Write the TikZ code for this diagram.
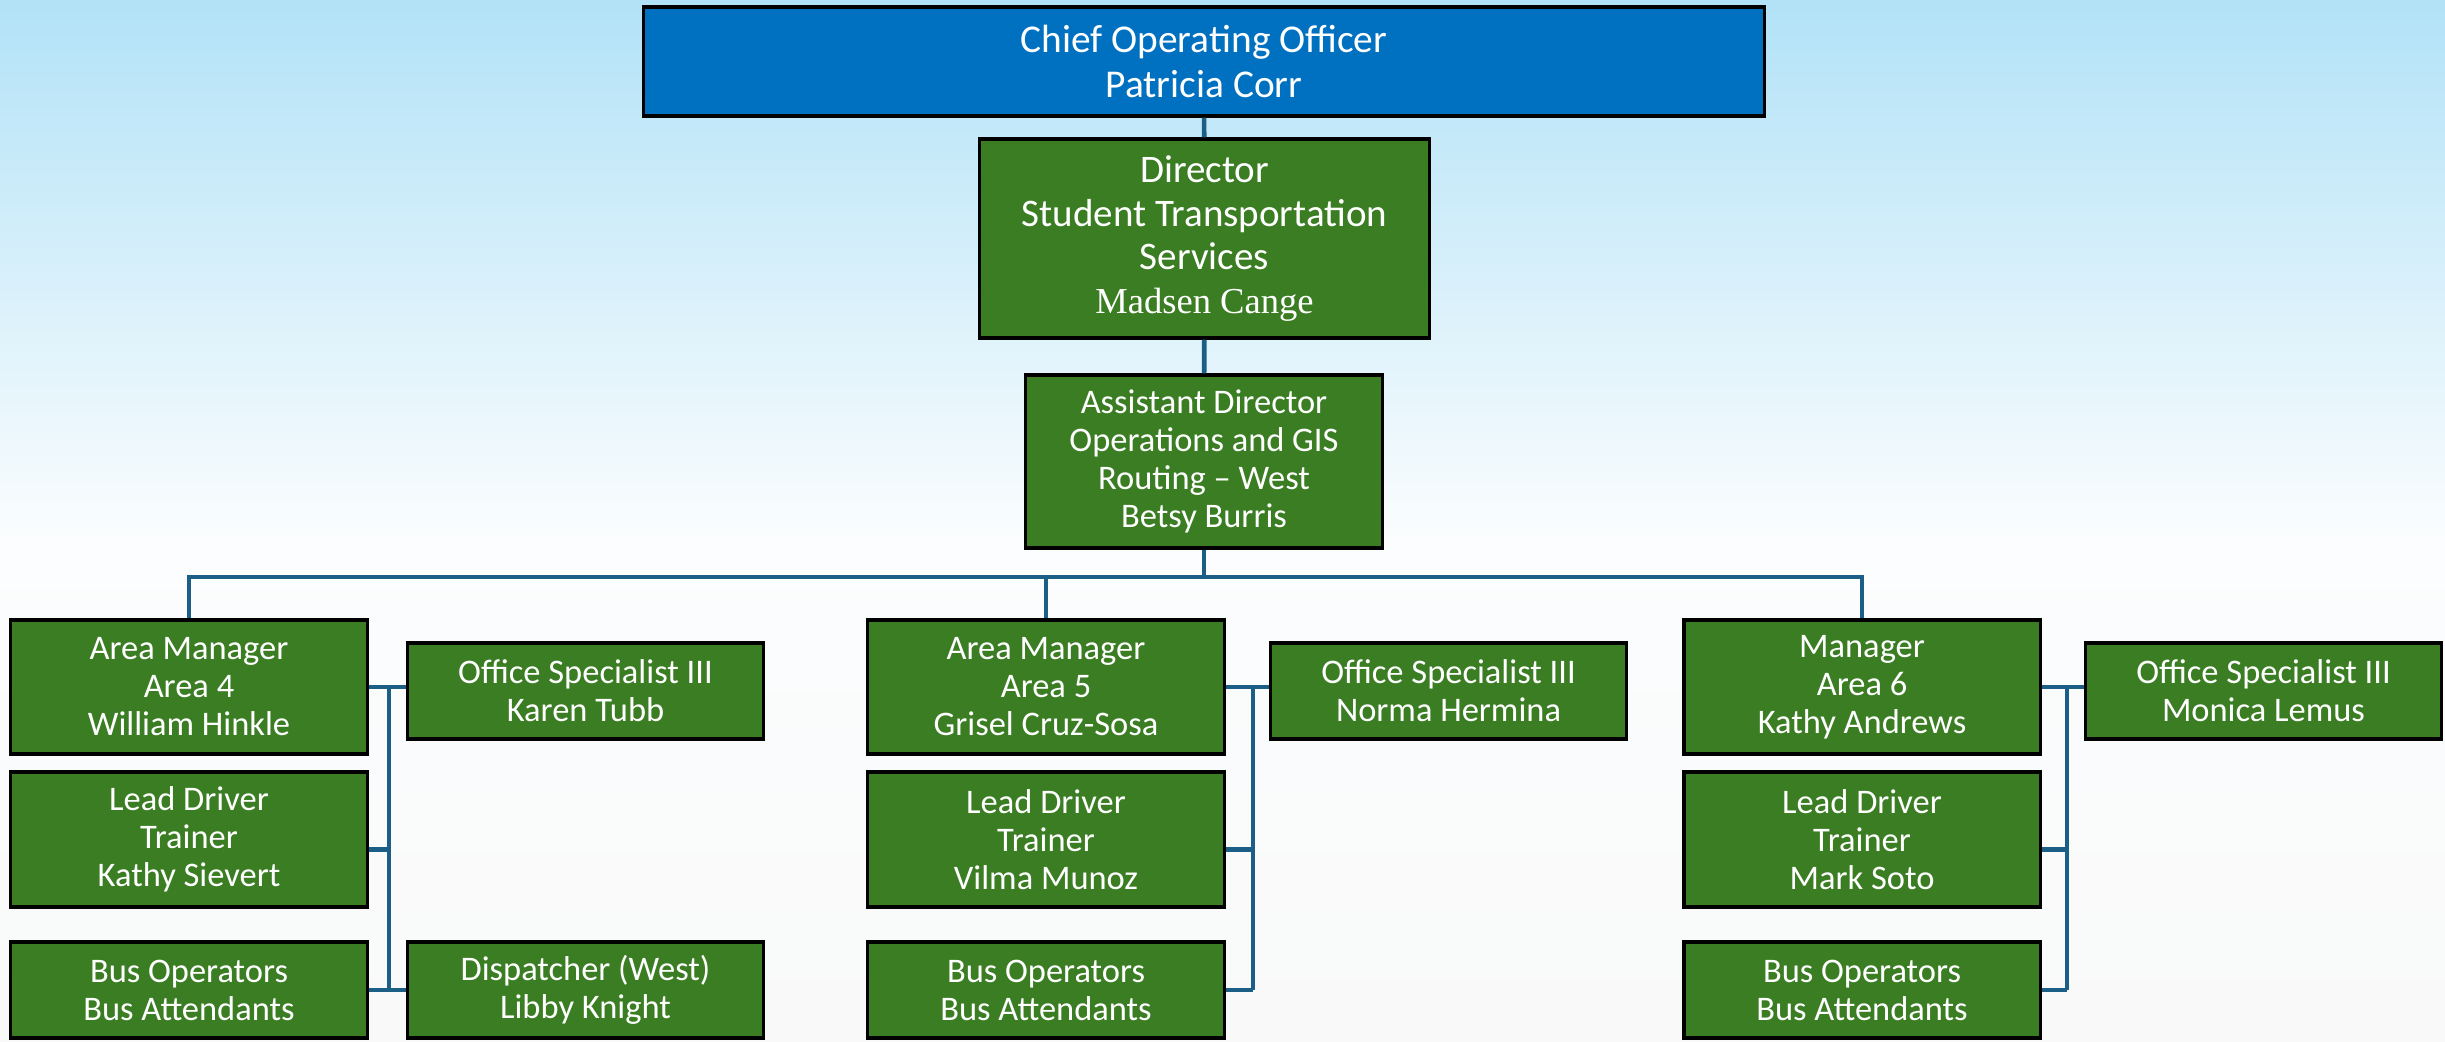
\documentclass[tikz,border=0pt]{standalone}
\usepackage{fontspec}
\setmainfont{Carlito}
\newfontfamily\namefont{Liberation Serif}
\usepackage{xcolor}
\definecolor{cSky}{HTML}{B2E2F7}
\definecolor{cPale}{HTML}{FBFDFE}
\definecolor{cFloor}{HTML}{F9F9F9}
\definecolor{cBlue}{HTML}{0070C0}
\definecolor{cGreen}{HTML}{3A7D22}
\definecolor{cLine}{HTML}{1B5E86}
\usetikzlibrary{positioning,calc}
\tikzset{
  node-box/.style={draw=black,line width=0.9pt,fill=cGreen,text=white,
    align=center,inner sep=0pt,font=\fontsize{9.8}{10.8}\selectfont},
  node-top/.style={fill=cBlue,font=\fontsize{11.2}{12.8}\selectfont},
  node-big/.style={font=\fontsize{11.1}{12.4}\selectfont},
  node-area/.style={minimum width=3.56cm,minimum height=1.34cm},
  node-lead/.style={minimum width=3.56cm,minimum height=1.35cm},
  node-short/.style={minimum width=3.56cm,minimum height=0.96cm},
  line-org/.style={draw=cLine,line width=1.3pt},
}

\begin{document}
\begin{tikzpicture}[x=0.01cm,y=-0.01cm]
  \useasboundingbox (0,0) rectangle (2445,1041);
  \shade[top color=cSky,bottom color=cPale] (0,0) rectangle (2445,540);
  \shade[top color=cPale,bottom color=cFloor] (0,540) rectangle (2445,1041);

  \coordinate (rail) at (1204,577);
  \coordinate (xA) at (389,0);
  \coordinate (xB) at (1253,0);
  \coordinate (xC) at (2067,0);

  % top of the chart
  \node[node-box,node-top,minimum width=11.2cm,minimum height=1.09cm] (coo) at (1204,61.5)
    {Chief Operating Officer\\Patricia Corr};
  \node[node-box,node-big,minimum width=4.49cm,minimum height=1.99cm] (dir) at (1204.5,238.5)
    {Director\\Student Transportation\\Services\\{\namefont\fontsize{10.4}{12.4}\selectfont Madsen Cange}};
  \node[node-box,minimum width=3.56cm,minimum height=1.73cm] (asst) at (1204,461.5)
    {Assistant Director\\Operations and GIS\\Routing -- West\\Betsy Burris};

  % area 4
  \node[node-box,node-area]  (m4)   at (189,687)    {Area Manager\\Area 4\\William Hinkle};
  \node[node-box,node-lead]  (ld4)  at (189,839.5)  {Lead Driver\\Trainer\\Kathy Sievert};
  \node[node-box,node-short] (bus4) at (189,990)    {Bus Operators\\Bus Attendants};
  \node[node-box,node-short] (os4)  at (585.5,691)  {Office Specialist III\\Karen Tubb};
  \node[node-box,node-short] (dsp4) at (585.5,990)  {Dispatcher (West)\\Libby Knight};

  % area 5
  \node[node-box,node-area]  (m5)   at (1046,687)   {Area Manager\\Area 5\\Grisel Cruz-Sosa};
  \node[node-box,node-lead]  (ld5)  at (1046,839.5) {Lead Driver\\Trainer\\Vilma Munoz};
  \node[node-box,node-short] (bus5) at (1046,990)   {Bus Operators\\Bus Attendants};
  \node[node-box,node-short] (os5)  at (1448.5,691) {Office Specialist III\\Norma Hermina};

  % area 6
  \node[node-box,node-area]  (m6)   at (1862,687)   {Manager\\Area 6\\Kathy Andrews};
  \node[node-box,node-lead]  (ld6)  at (1862,839.5) {Lead Driver\\Trainer\\Mark Soto};
  \node[node-box,node-short] (bus6) at (1862,990)   {Bus Operators\\Bus Attendants};
  \node[node-box,node-short] (os6)  at (2263.5,691) {Office Specialist III\\Monica Lemus};

  % reporting lines
  \draw[line-org] (coo) -- (dir);
  \draw[line-org] (dir) -- (asst);
  \draw[line-org] (asst) -- (rail);
  \draw[line-org] (m4.north) |- (rail) -| (m6.north);
  \draw[line-org] (m5.north) -- (m5.north |- rail);

  \draw[line-org] (m4.east) -- (m4.east -| os4.west);
  \draw[line-org] (m4.east -| xA) -- (bus4.east -| xA);
  \draw[line-org] ([yshift=-0.1cm]ld4.east) -- ([yshift=-0.1cm]ld4.east -| xA);
  \draw[line-org] (bus4.east) -- (dsp4.west);

  \draw[line-org] (m5.east) -- (m5.east -| os5.west);
  \draw[line-org] (m5.east -| xB) -- (bus5.east -| xB);
  \draw[line-org] ([yshift=-0.1cm]ld5.east) -- ([yshift=-0.1cm]ld5.east -| xB);
  \draw[line-org] (bus5.east) -- (bus5.east -| xB);

  \draw[line-org] (m6.east) -- (m6.east -| os6.west);
  \draw[line-org] (m6.east -| xC) -- (bus6.east -| xC);
  \draw[line-org] ([yshift=-0.1cm]ld6.east) -- ([yshift=-0.1cm]ld6.east -| xC);
  \draw[line-org] (bus6.east) -- (bus6.east -| xC);
\end{tikzpicture}
\end{document}
